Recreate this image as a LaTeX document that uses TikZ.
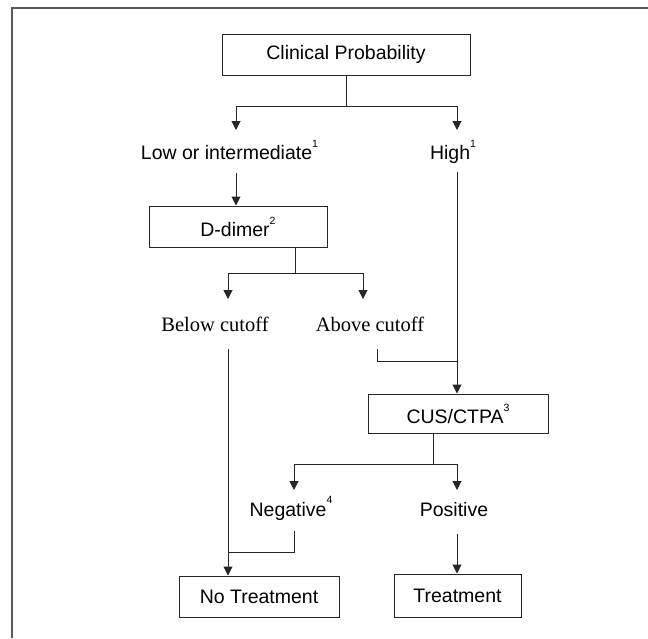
\documentclass[tikz,border=0pt]{standalone}
\usepackage{fontspec}
\setmainfont{Liberation Sans}
\newfontfamily\seriffont{Liberation Serif}
\usetikzlibrary{arrows.meta}
\newcommand\mysup[1]{\raisebox{0.62em}{\fontsize{10.5}{12}\selectfont #1}}
\begin{document}
\begin{tikzpicture}[x=1pt,y=-1pt,
  box/.style={draw=black!85,line width=1pt,inner sep=0pt,font=\fontsize{19.5}{23}\selectfont},
  lbl/.style={inner sep=0pt,anchor=base,font=\fontsize{19.5}{23}\selectfont},
  slbl/.style={inner sep=0pt,anchor=base,font=\seriffont\fontsize{20.5}{24}\selectfont},
  conn/.style={draw=black!85,line width=1pt},
  arr/.style={conn,-{Triangle[width=9pt,length=9pt]}},
  frame/.style={draw=black!65,line width=2pt}]
\useasboundingbox (0,0) rectangle (648,638);
\draw[frame] (12,638) -- (12,7.5) -- (648,7.5);
% nodes
\node[box,minimum width=248pt,minimum height=41pt] (cp) at (346,54.5) {Clinical Probability};
\node[lbl] (low) at (229.5,159.3) {Low or intermediate\mysup{1}};
\node[lbl] (high) at (453,159.3) {High\mysup{1}};
\node[box,minimum width=178pt,minimum height=41pt] (dd) at (238,226.5) {D-dimer\mysup{2}};
\node[slbl] (below) at (215,331.7) {Below cutoff};
\node[slbl] (above) at (370,331.7) {Above cutoff};
\node[box,minimum width=180pt,minimum height=39pt] (cus) at (458,413.5) {CUS/CTPA\mysup{3}};
\node[lbl] (neg) at (291,516) {Negative\mysup{4}};
\node[lbl] (pos) at (454,516) {Positive};
\node[box,minimum width=160pt,minimum height=41pt] (nt) at (259,596.5) {No Treatment};
\node[box,minimum width=127pt,minimum height=43pt] (tr) at (457.5,595.5) {Treatment};
% coordinates
\coordinate (b1) at (346,106);
\coordinate (lowtip) at (236,130);
\coordinate (hightip) at (457,130);
\coordinate (lowout) at (236,173);
\coordinate (highout) at (457,172);
\coordinate (b2) at (295,273);
\coordinate (belowtip) at (228,299);
\coordinate (abovetip) at (363,299);
\coordinate (belowout) at (228,349);
\coordinate (aboveout) at (377,349);
\coordinate (m1) at (457,361);
\coordinate (b3) at (433,464);
\coordinate (negtip) at (294,490);
\coordinate (postip) at (457,490);
\coordinate (negout) at (294,531);
\coordinate (m2) at (228,552);
\coordinate (posout) at (457,534);
% connectors
\draw[conn] (cp.south) -- (b1);
\draw[arr] (b1) -| (lowtip);
\draw[arr] (b1) -| (hightip);
\draw[arr] (lowout) -- (lowout |- dd.north);
\draw[arr] (highout) -- (highout |- cus.north);
\draw[conn] (b2 |- dd.south) -- (b2);
\draw[arr] (b2) -| (belowtip);
\draw[arr] (b2) -| (abovetip);
\draw[conn] (aboveout) |- (m1);
\draw[arr] (belowout) -- (belowout |- nt.north);
\draw[conn] (b3 |- cus.south) -- (b3);
\draw[arr] (b3) -| (negtip);
\draw[arr] (b3) -| (postip);
\draw[conn] (negout) |- (m2);
\draw[arr] (posout) -- (posout |- tr.north);
\end{tikzpicture}
\end{document}
